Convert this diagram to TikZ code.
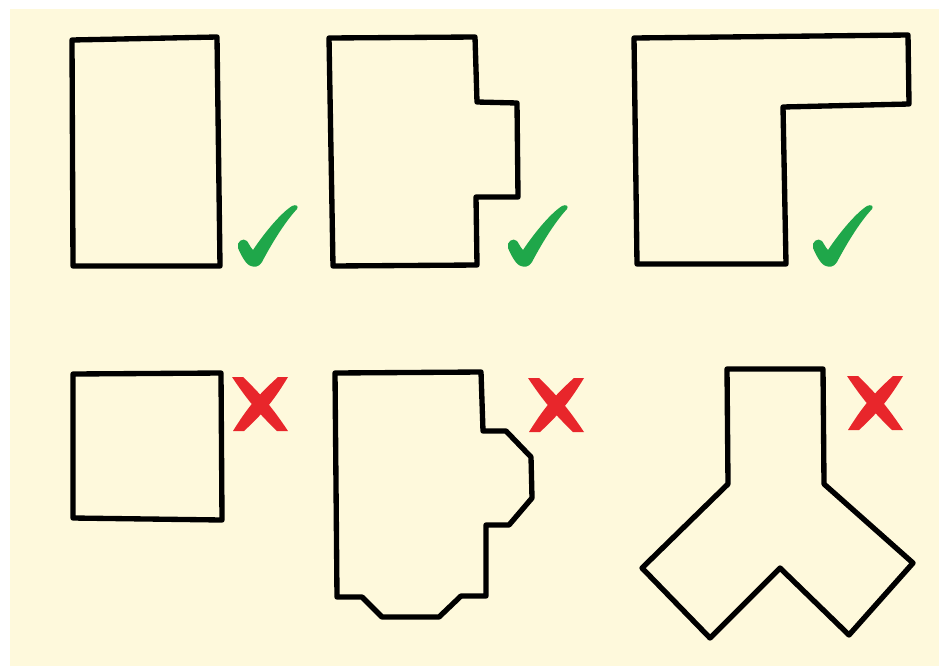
\documentclass[tikz,border=0pt]{standalone}
\usepackage{tikz}
\definecolor{Paper}{HTML}{FEF9DC}
\definecolor{OkGreen}{HTML}{1FA74A}
\definecolor{NoRed}{HTML}{E8262B}
\tikzset{
 outline/.style={draw=black, line width=1.6mm, line join=round},
 okmark/.pic={
  \fill[OkGreen] (0,1) .. controls (-5,0) and (-10,-10) .. (-13,-17)
   .. controls (-15,-23) and (-8,-28) .. (-4,-24)
   .. controls (-2,-21) and (0,-17) .. (2,-15)
   .. controls (14,-33) and (30,-52) .. (41,-59)
   .. controls (45,-61) and (48,-59) .. (46,-56)
   .. controls (33,-42) and (20,-20) .. (11,-3)
   .. controls (7,3) and (3,2) .. (0,1) -- cycle;
 },
 nomark/.pic={
  \fill[NoRed] (-28,-27) -- (-17,-27) to[bend left=6] (28,27) -- (17,27) to[bend left=6] cycle;
  \fill[NoRed] (28,-27) -- (18,-27) to[bend right=8] (-27,27) -- (-16,27) to[bend right=8] cycle;
 }
}
\begin{document}
\begin{tikzpicture}[x=0.3mm,y=-0.3mm]
\useasboundingbox (0,0) rectangle (939,666);
\fill[white] (0,0) rectangle (939,666);
\fill[Paper] (10,9) rectangle (939,666);
% top row: good plans
\draw[outline] (72,40) -- (217,37) -- (220,266) -- (73,266) -- cycle;
\draw[outline] (329,38) -- (475,37) -- (477,102) -- (517,103) -- (518,197)
 -- (476,197) -- (477,265) -- (333,266) -- cycle;
\draw[outline] (634,38) -- (908,35) -- (909,104) -- (783,107) -- (786,264)
 -- (637,264) -- cycle;
\pic at (251,265) {okmark};
\pic at (521,265) {okmark};
\pic at (826,265) {okmark};
% bottom row: bad plans
\draw[outline] (73,374) -- (221,373) -- (222,520) -- (73,518) -- cycle;
\draw[outline] (335,373) -- (481,372) -- (483,431) -- (506,431) -- (531,457)
 -- (532,498) -- (509,525) -- (486,525) -- (486,596) -- (461,596) -- (439,617)
 -- (382,617) -- (362,597) -- (337,597) -- cycle;
\draw[outline] (727,369) -- (823,369) -- (824,484) -- (913,563) -- (849,635)
 -- (780,568) -- (710,638) -- (642,568) -- (728,484) -- cycle;
\pic at (260,404) {nomark};
\pic at (556,405) {nomark};
\pic at (875,403) {nomark};
\end{tikzpicture}
\end{document}
